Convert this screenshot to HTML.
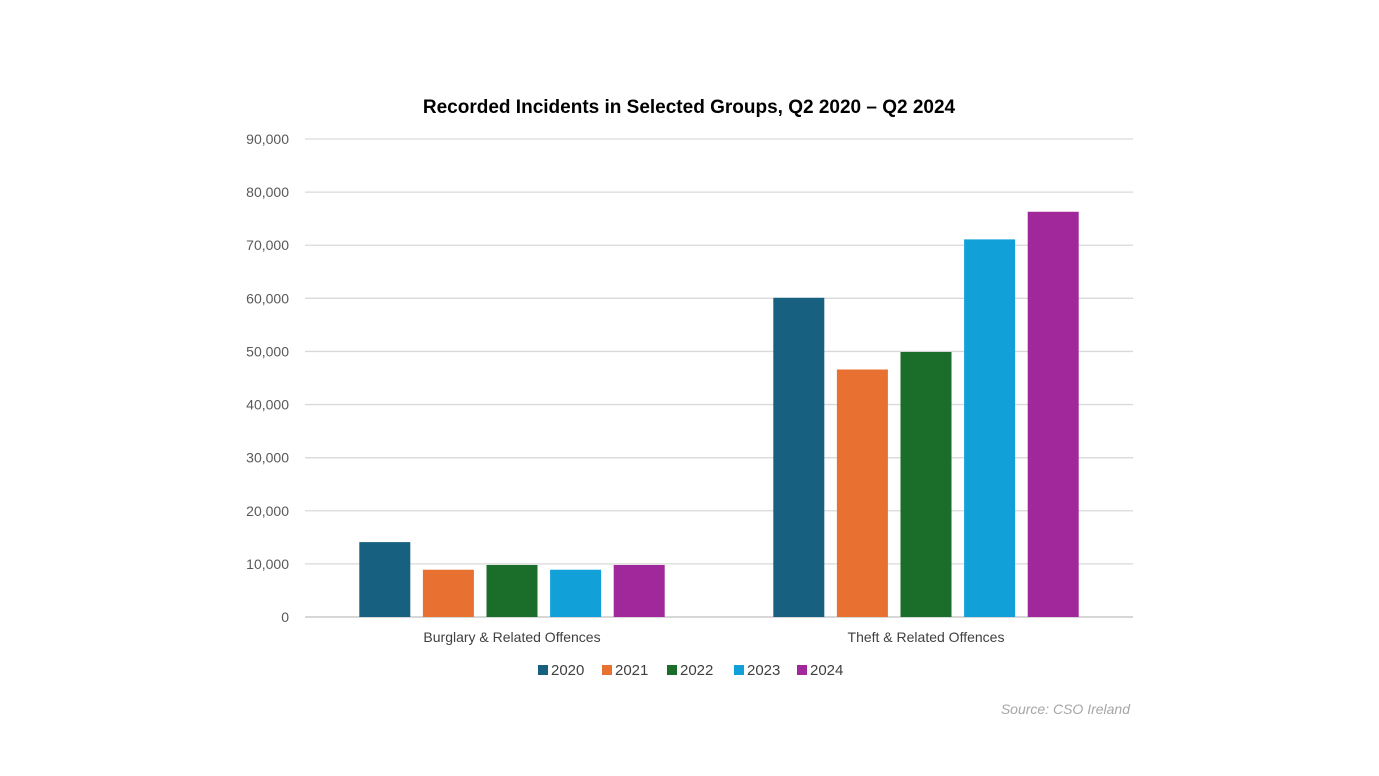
<!DOCTYPE html>
<html><head><meta charset="utf-8"><style>
body{margin:0;background:#fff;}
svg{display:block;font-family:"Liberation Sans",sans-serif;}
</style></head><body>
<svg id="chart" width="1379" height="776">
<text x="689" y="113" text-anchor="middle" font-size="19" font-weight="bold" fill="#000">Recorded Incidents in Selected Groups, Q2 2020 – Q2 2024</text>
<g id="grid"></g><g id="bars"></g><g id="legend"></g>
<text x="1130" y="714" text-anchor="end" font-size="14" font-style="italic" fill="#a6a6a6">Source: CSO Ireland</text>
</svg>
<script>
const categories=["Burglary & Related Offences","Theft & Related Offences"];
const years=["2020","2021","2022","2023","2024"];
const colors=["#17607f","#e87030","#1a6e2a","#12a0d8","#a0289a"];
const s2020=[14100,60100];
const s2021=[8900,46600];
const s2022=[9800,49900];
const s2023=[8900,71100];
const s2024=[9800,76300];
const series=[s2020,s2021,s2022,s2023,s2024];
const ticks=[0,10000,20000,30000,40000,50000,60000,70000,80000,90000];
const NS="http://www.w3.org/2000/svg";
const x0=305,x1=1133,yb=617,yt=139,ymax=90000;
const y=v=>yb-(v/ymax)*(yb-yt);
const catW=(x1-x0)/categories.length;
const step=63.6,bw=51;
function mk(t,a,p){const e=document.createElementNS(NS,t);for(const k in a)e.setAttribute(k,a[k]);p.appendChild(e);return e;}
const grid=document.getElementById('grid');
ticks.forEach(t=>{
 const l=mk('line',{x1:x0,x2:x1,y1:y(t),y2:y(t),stroke:t===0?'#bfbfbf':'#d9d9d9','stroke-width':1.3},grid);
 
 
 const tx=mk('text',{x:289,y:y(t)+5,'text-anchor':'end','font-size':14,fill:'#595959'},grid);
 tx.textContent=t.toLocaleString('en-US');
 
 
});
const bars=document.getElementById('bars');
categories.forEach((c,i)=>{
 const cx=x0+catW*(i+0.5);
 const t=mk('text',{x:cx,y:642,'text-anchor':'middle','font-size':14,fill:'#404040'},bars);
 t.textContent=c;
 
 
 series.forEach((s,j)=>{
  const bx=cx+(j-2)*step-bw/2;
  const r=mk('rect',{x:bx,y:y(s[i]),width:bw,height:yb-y(s[i]),fill:colors[j]},bars);
  
  
 });
});
const lg=document.getElementById('legend');
const lx=[538,602,667,734,797];
years.forEach((yr,j)=>{
 const r=mk('rect',{x:lx[j],y:665,width:10,height:10,fill:colors[j]},lg);
 
 
 const t=mk('text',{x:lx[j]+13,y:675,'font-size':15,fill:'#404040'},lg);
 t.textContent=yr;
 
 
});
</script>
</body></html>
